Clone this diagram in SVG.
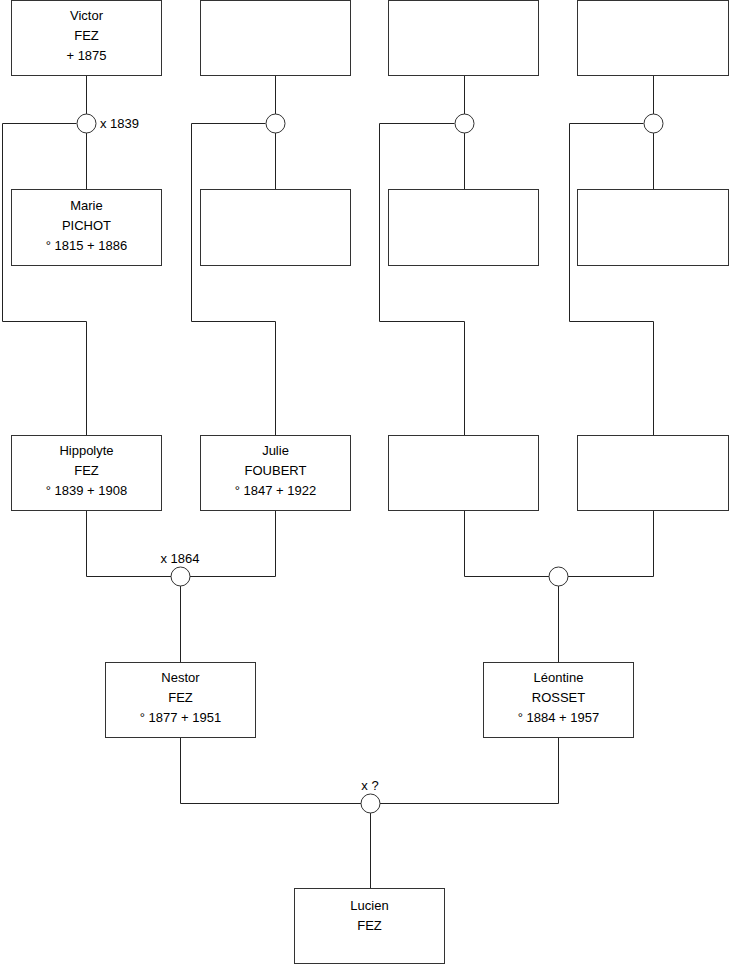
<svg xmlns="http://www.w3.org/2000/svg" width="740" height="975" viewBox="0 0 740 975">
<style>
.box{fill:#fff;stroke:#333;stroke-width:1}
.ln{fill:none;stroke:#222;stroke-width:1}
.ring{fill:#fff;stroke:#333;stroke-width:1}
text{font-family:"Liberation Sans",Arial,sans-serif;font-size:13px;fill:#000}
.c{text-anchor:middle}
</style>
<rect width="740" height="975" fill="#fff"/>
<g id="connectors">
<path class="ln" d="M86.5,75.5V189.5M76.5,123.5H2.5V321.5H86.5V435.5"/>
<path class="ln" d="M275.5,75.5V189.5M265.5,123.5H191.5V321.5H275.5V435.5"/>
<path class="ln" d="M464.5,75.5V189.5M454.5,123.5H379.5V321.5H464.5V435.5"/>
<path class="ln" d="M653.5,75.5V189.5M643.5,123.5H569.5V321.5H653.5V435.5"/>
<path class="ln" d="M86.5,510.5V576.5H275.5V510.5M180.5,576.5V662.5"/>
<path class="ln" d="M464.5,510.5V576.5H653.5V510.5M558.5,576.5V662.5"/>
<path class="ln" d="M180.5,737.5V803.5H558.5V737.5M370.5,803.5V888.5"/>
<circle class="ring" cx="86.5" cy="123.5" r="9.5"/>
<circle class="ring" cx="275.5" cy="123.5" r="9.5"/>
<circle class="ring" cx="464.5" cy="123.5" r="9.5"/>
<circle class="ring" cx="653.5" cy="123.5" r="9.5"/>
<circle class="ring" cx="180.5" cy="576.5" r="9.5"/>
<circle class="ring" cx="558.5" cy="576.5" r="9.5"/>
<circle class="ring" cx="370.5" cy="803.5" r="9.5"/>
<text x="100" y="128">x 1839</text>
<text class="c" x="180" y="563">x 1864</text>
<text class="c" x="370" y="790">x ?</text>
</g>
<g id="victor"><rect class="box" x="11.5" y="0.5" width="150" height="75"/>
<text class="c" x="86.5" y="20">Victor</text><text class="c" x="86.5" y="40">FEZ</text><text class="c" x="86.5" y="60">+ 1875</text></g>
<g id="p2"><rect class="box" x="200.5" y="0.5" width="150" height="75"/></g>
<g id="p3"><rect class="box" x="388.5" y="0.5" width="150" height="75"/></g>
<g id="p4"><rect class="box" x="577.5" y="0.5" width="151" height="75"/></g>
<g id="marie"><rect class="box" x="11.5" y="189.5" width="150" height="76"/>
<text class="c" x="86.5" y="210">Marie</text><text class="c" x="86.5" y="230">PICHOT</text><text class="c" x="86.5" y="250">° 1815 + 1886</text></g>
<g id="p6"><rect class="box" x="200.5" y="189.5" width="150" height="76"/></g>
<g id="p7"><rect class="box" x="388.5" y="189.5" width="150" height="76"/></g>
<g id="p8"><rect class="box" x="577.5" y="189.5" width="151" height="76"/></g>
<g id="hippolyte"><rect class="box" x="11.5" y="435.5" width="150" height="75"/>
<text class="c" x="86.5" y="455">Hippolyte</text><text class="c" x="86.5" y="475">FEZ</text><text class="c" x="86.5" y="495">° 1839 + 1908</text></g>
<g id="julie"><rect class="box" x="200.5" y="435.5" width="150" height="75"/>
<text class="c" x="275.5" y="455">Julie</text><text class="c" x="275.5" y="475">FOUBERT</text><text class="c" x="275.5" y="495">° 1847 + 1922</text></g>
<g id="p11"><rect class="box" x="388.5" y="435.5" width="150" height="75"/></g>
<g id="p12"><rect class="box" x="577.5" y="435.5" width="151" height="75"/></g>
<g id="nestor"><rect class="box" x="105.5" y="662.5" width="150" height="75"/>
<text class="c" x="180.5" y="682">Nestor</text><text class="c" x="180.5" y="702">FEZ</text><text class="c" x="180.5" y="722">° 1877 + 1951</text></g>
<g id="leontine"><rect class="box" x="483.5" y="662.5" width="150" height="75"/>
<text class="c" x="558.5" y="682">Léontine</text><text class="c" x="558.5" y="702">ROSSET</text><text class="c" x="558.5" y="722">° 1884 + 1957</text></g>
<g id="lucien"><rect class="box" x="294.5" y="888.5" width="150" height="75"/>
<text class="c" x="369.5" y="910">Lucien</text><text class="c" x="369.5" y="930">FEZ</text></g>
</svg>
